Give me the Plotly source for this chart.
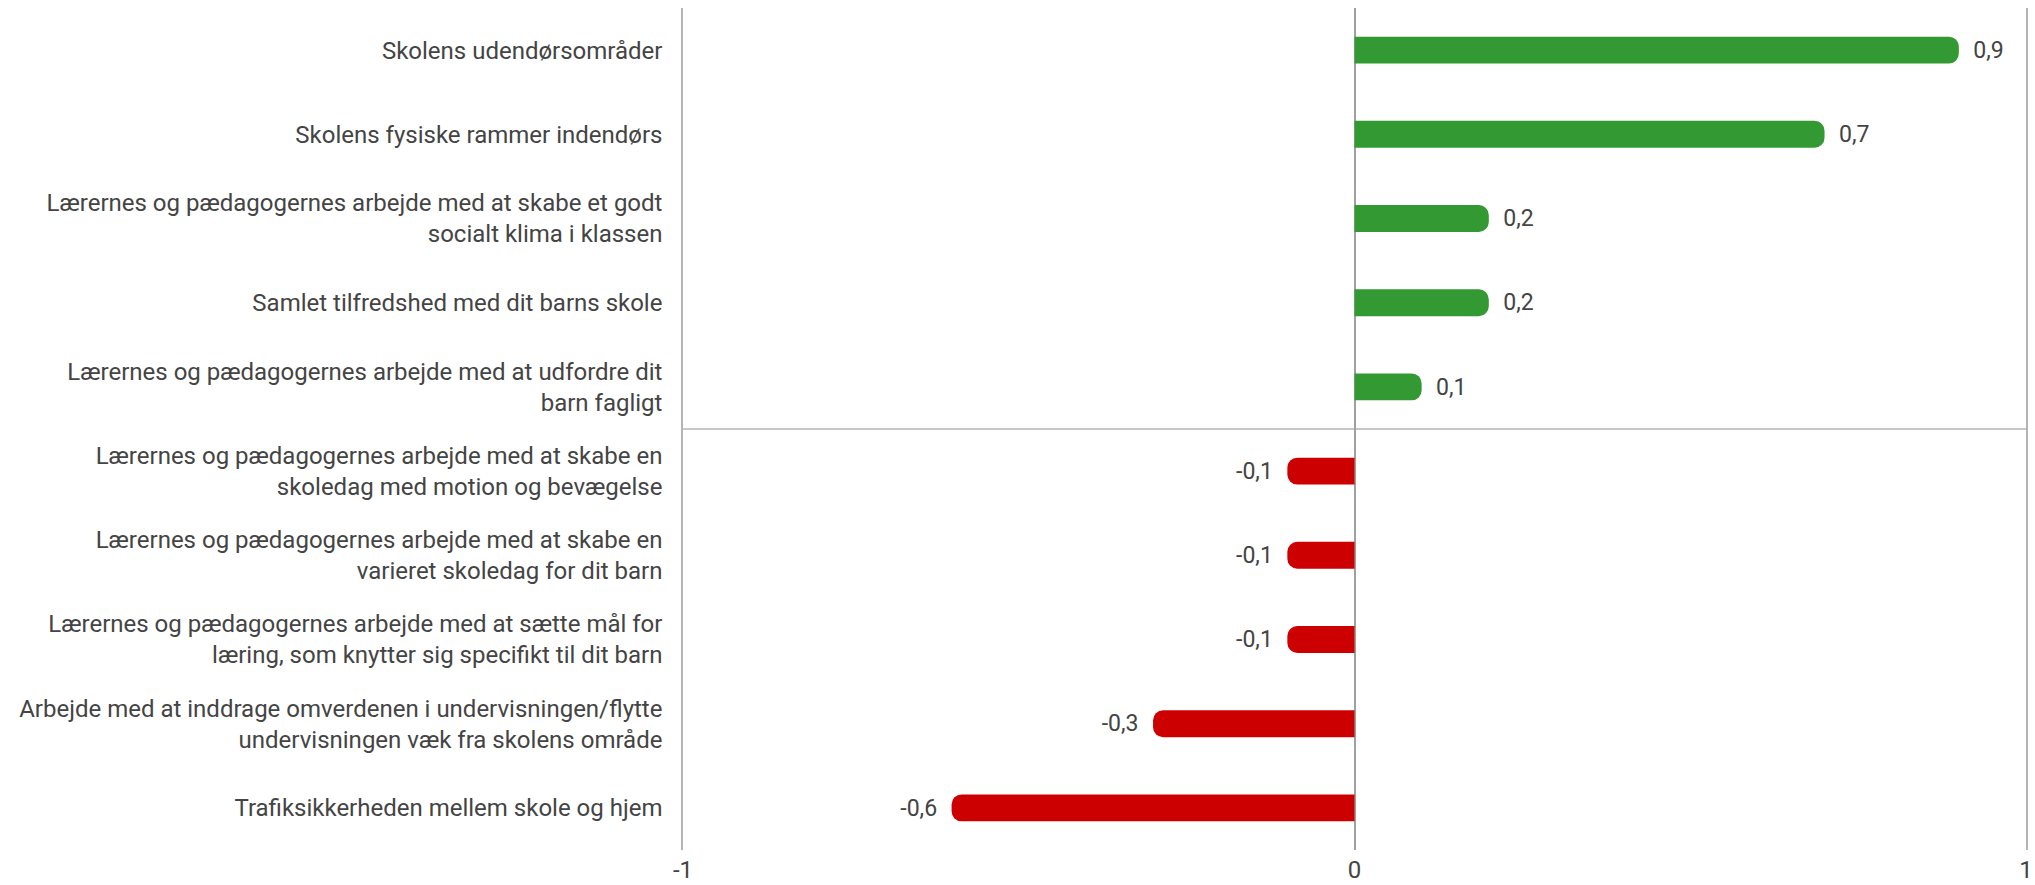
import plotly.graph_objects as go

categories = [
    "Skolens udendørsområder",
    "Skolens fysiske rammer indendørs",
    "Lærernes og pædagogernes arbejde med at skabe et godt<br>socialt klima i klassen",
    "Samlet tilfredshed med dit barns skole",
    "Lærernes og pædagogernes arbejde med at udfordre dit<br>barn fagligt",
    "Lærernes og pædagogernes arbejde med at skabe en<br>skoledag med motion og bevægelse",
    "Lærernes og pædagogernes arbejde med at skabe en<br>varieret skoledag for dit barn",
    "Lærernes og pædagogernes arbejde med at sætte mål for<br>læring, som knytter sig specifikt til dit barn",
    "Arbejde med at inddrage omverdenen i undervisningen/flytte<br>undervisningen væk fra skolens område",
    "Trafiksikkerheden mellem skole og hjem",
]
values = [0.9, 0.7, 0.2, 0.2, 0.1, -0.1, -0.1, -0.1, -0.3, -0.6]
x_ticks = [-1, 0, 1]
x_tick_labels = ["-1", "0", "1"]

POS = "#339933"
NEG = "#cc0000"
TXT = "#444444"
GRID = "#b3b3b3"
FS = 24

n = len(categories)
ypos = list(range(n))
colors = [POS if v >= 0 else NEG for v in values]
labels = []
for v in values:
    s = f"{v:.1f}".replace(".", ",")
    labels.append("  " + s if v >= 0 else s + "  ")

fig = go.Figure(go.Bar(
    x=values, y=ypos, orientation="h",
    marker=dict(color=colors, line=dict(width=0)),
    text=labels, textposition="outside", cliponaxis=False,
    textfont=dict(family="Roboto", size=FS, color=TXT),
))

fig.add_shape(type="line", xref="paper", yref="y", x0=0, x1=1,
              y0=(n - 1) / 2, y1=(n - 1) / 2,
              line=dict(color=GRID, width=1.5), layer="below")

fig.update_layout(
    width=2035, height=885,
    margin=dict(l=683, r=9, t=8, b=35),
    paper_bgcolor="white", plot_bgcolor="white",
    font=dict(family="Roboto", size=FS, color=TXT),
    bargap=0.68, barcornerradius=10,
    separators=",.",
    showlegend=False,
    xaxis=dict(range=[-1, 1], tickvals=x_ticks, ticktext=x_tick_labels,
               showgrid=True, gridcolor=GRID,
               gridwidth=1.5, zeroline=True, zerolinecolor="#a0a0a0", zerolinewidth=2,
               showline=False, ticks="", ticklabeloverflow="allow", automargin=False,
               ticklabelstandoff=3, tickfont=dict(size=FS, color=TXT)),
    yaxis=dict(range=[n - 0.5, -0.5], tickvals=ypos, ticktext=categories,
               showgrid=False, zeroline=False, showline=True, mirror=True,
               linecolor=GRID, linewidth=1.5, ticks="", automargin=False,
               ticklabelstandoff=14, tickfont=dict(size=FS, color=TXT)),
)

fig.write_html("out.html", config={"displayModeBar": False},
               post_script="document.body.style.margin='0';")
